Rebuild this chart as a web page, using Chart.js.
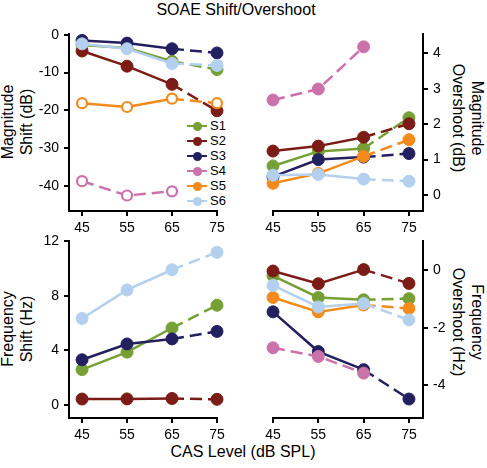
<!DOCTYPE html>
<html><head><meta charset="utf-8">
<script src="https://cdn.jsdelivr.net/npm/chart.js@4/dist/chart.umd.min.js"></script>
<style>
body{margin:0;background:#fff;width:487px;height:468px;position:relative;overflow:hidden;font-family:"Liberation Sans",Arial,sans-serif;}
canvas{position:absolute;}
.t{position:absolute;white-space:nowrap;color:#000;transform:translate(-50%,-50%);line-height:1;font-size:16px;}
.l{transform:translate(-50%,-50%) rotate(-90deg);}
.r{transform:translate(-50%,-50%) rotate(90deg);}
.lg{position:absolute;font-size:13px;line-height:1;}
</style></head><body>
<div class="t" style="left:236px;top:10px;">SOAE Shift/Overshoot</div>
<div class="t" style="left:243px;top:452px;">CAS Level (dB SPL)</div>
<div class="t l" style="left:8px;top:122px;">Magnitude</div>
<div class="t l" style="left:27px;top:122px;">Shift (dB)</div>
<div class="t l" style="left:8px;top:329px;">Frequency</div>
<div class="t l" style="left:27px;top:329px;">Shift (Hz)</div>
<div class="t r" style="left:477px;top:118px;">Magnitude</div>
<div class="t r" style="left:458px;top:118px;">Overshoot (dB)</div>
<div class="t r" style="left:477px;top:322px;">Frequency</div>
<div class="t r" style="left:458px;top:322px;">Overshoot (Hz)</div>
<div id="legend"></div>
<script>
const levels = [45, 55, 65, 75];
const seriesNames = ['S1', 'S2', 'S3', 'S4', 'S5', 'S6'];
const seriesColors = ['#76a036', '#7b1c16', '#232060', '#cc72aa', '#f28b1c', '#b3d0ee'];

// Magnitude Shift (dB)
const magShiftS1 = [-2.7, -3.5, -7.0, -9.2];
const magShiftS2 = [-4.3, -8.3, -13.1, -20.1];
const magShiftS3 = [-1.5, -2.2, -3.7, -4.8];
const magShiftS4 = [-38.7, -42.5, -41.4, null];
const magShiftS5 = [-18.1, -19.1, -16.9, -18.1];
const magShiftS6 = [-2.4, -3.7, -7.6, -8.1];

// Magnitude Overshoot (dB)
const magOverS1 = [0.82, 1.23, 1.31, 2.18];
const magOverS2 = [1.24, 1.38, 1.63, 2.01];
const magOverS3 = [0.52, 1.0, 1.07, 1.17];
const magOverS4 = [2.68, 2.99, 4.18, null];
const magOverS5 = [0.33, 0.61, 1.09, 1.56];
const magOverS6 = [0.56, 0.58, 0.45, 0.39];

// Frequency Shift (Hz)
const freqShiftS1 = [2.6, 3.88, 5.65, 7.32];
const freqShiftS2 = [0.44, 0.45, 0.48, 0.42];
const freqShiftS3 = [3.32, 4.48, 4.85, 5.4];
const freqShiftS6 = [6.35, 8.44, 9.92, 11.2];

// Frequency Overshoot (Hz)
const freqOverS1 = [-0.2, -0.95, -1.03, -0.99];
const freqOverS2 = [-0.03, -0.47, 0.02, -0.46];
const freqOverS3 = [-1.45, -2.83, -3.46, -4.48];
const freqOverS4 = [-2.7, -3.0, -3.58, null];
const freqOverS5 = [-0.95, -1.45, -1.21, -1.33];
const freqOverS6 = [-0.53, -1.28, -1.16, -1.73];

const magShiftTicks = [0, -10, -20, -30, -40];
const magOverTicks = [0, 1, 2, 3, 4];
const freqShiftTicks = [0, 4, 8, 12];
const freqOverTicks = [0, -2, -4];

Chart.defaults.font.family = "'Liberation Sans', Arial, sans-serif";
const drawOrder = [6, 4, 5, 3, 2, 1];

function ds(idx, arr, open, allDashed) {
  const col = seriesColors[idx];
  return {
    label: seriesNames[idx],
    data: levels.map((x, i) => ({x: x, y: arr[i]})).filter(p => p.y !== null),
    borderColor: col,
    backgroundColor: col,
    pointBackgroundColor: open ? '#fff' : col,
    pointBorderColor: col,
    pointRadius: open ? 5 : 6,
    pointBorderWidth: open ? 2.2 : 1,
    borderWidth: 2.5,
    tension: 0,
    clip: false,
    order: drawOrder[idx],
    segment: {borderDash: ctx => (allDashed || ctx.p0DataIndex >= 2) ? [12, 6] : undefined}
  };
}

function panel(cfg) {
  const P = 12, YW = 45, XH = 28;
  const w = (cfg.x1 - cfg.x0) + YW + 2 * P;
  const h = (cfg.y1 - cfg.y0) + XH + 2 * P;
  const left = cfg.side === 'left' ? cfg.x0 - YW - P : cfg.x0 - P;
  const top = cfg.y0 - P;
  const c = document.createElement('canvas');
  c.width = w; c.height = h;
  c.style.left = left + 'px'; c.style.top = top + 'px';
  c.style.width = w + 'px'; c.style.height = h + 'px';
  document.body.appendChild(c);
  const axisCommon = {
    grid: {drawOnChartArea: false, drawTicks: true, tickLength: 5, color: '#000', lineWidth: 2},
    border: {display: true, color: '#000', width: 2},
    ticks: {color: '#000', font: {size: 14}, padding: 5, maxRotation: 0, autoSkip: false}
  };
  new Chart(c.getContext('2d'), {
    type: 'line',
    data: {datasets: cfg.datasets},
    options: {
      responsive: false, animation: false, devicePixelRatio: 1,
      layout: {padding: P},
      plugins: {legend: {display: false}, tooltip: {enabled: false}},
      scales: {
        x: Object.assign({}, axisCommon, {
          type: 'linear', min: cfg.xmin, max: cfg.xmax,
          afterFit: s => { s.height = XH; },
          afterBuildTicks: s => { s.ticks = levels.map(v => ({value: v})); },
          ticks: Object.assign({}, axisCommon.ticks, {padding: 4})
        }),
        y: Object.assign({}, axisCommon, {
          type: 'linear', position: cfg.side, min: cfg.ymin, max: cfg.ymax,
          afterFit: s => { s.width = YW; },
          afterBuildTicks: s => { s.ticks = cfg.yticks.map(v => ({value: v})); }
        })
      }
    }
  });
}

panel({side: 'left', x0: 69, x1: 217, y0: 33, y1: 211, xmin: 42.1, xmax: 75, ymin: -46.6, ymax: 0.1,
  yticks: magShiftTicks,
  datasets: [ds(0, magShiftS1), ds(1, magShiftS2), ds(2, magShiftS3), ds(3, magShiftS4, true, true), ds(4, magShiftS5, true), ds(5, magShiftS6)]});

panel({side: 'right', x0: 273, x1: 423, y0: 33, y1: 211, xmin: 45, xmax: 78.1, ymin: -0.45, ymax: 4.53,
  yticks: magOverTicks,
  datasets: [ds(0, magOverS1), ds(1, magOverS2), ds(2, magOverS3), ds(3, magOverS4, false, true), ds(4, magOverS5), ds(5, magOverS6)]});

panel({side: 'left', x0: 69, x1: 217, y0: 240, y1: 418, xmin: 42.1, xmax: 75, ymin: -0.95, ymax: 12,
  yticks: freqShiftTicks,
  datasets: [ds(0, freqShiftS1), ds(1, freqShiftS2), ds(2, freqShiftS3), ds(5, freqShiftS6)]});

panel({side: 'right', x0: 273, x1: 423, y0: 240, y1: 418, xmin: 45, xmax: 78.1, ymin: -5.14, ymax: 1.0,
  yticks: freqOverTicks,
  datasets: [ds(0, freqOverS1), ds(1, freqOverS2), ds(2, freqOverS3), ds(3, freqOverS4, false, true), ds(4, freqOverS5), ds(5, freqOverS6)]});

// legend
const lg = document.getElementById('legend');
seriesNames.forEach((n, i) => {
  const y = 126 + i * 15;
  const col = seriesColors[i];
  lg.insertAdjacentHTML('beforeend',
    `<div style="position:absolute;left:187px;top:${y - 1}px;width:20px;height:2px;background:${col}"></div>` +
    `<div style="position:absolute;left:${197 - 4.5}px;top:${y - 4.5}px;width:9px;height:9px;border-radius:50%;background:${col}"></div>` +
    `<div class="lg" style="left:210px;top:${y - 7}px;">${n}</div>`);
});
</script>
</body></html>
